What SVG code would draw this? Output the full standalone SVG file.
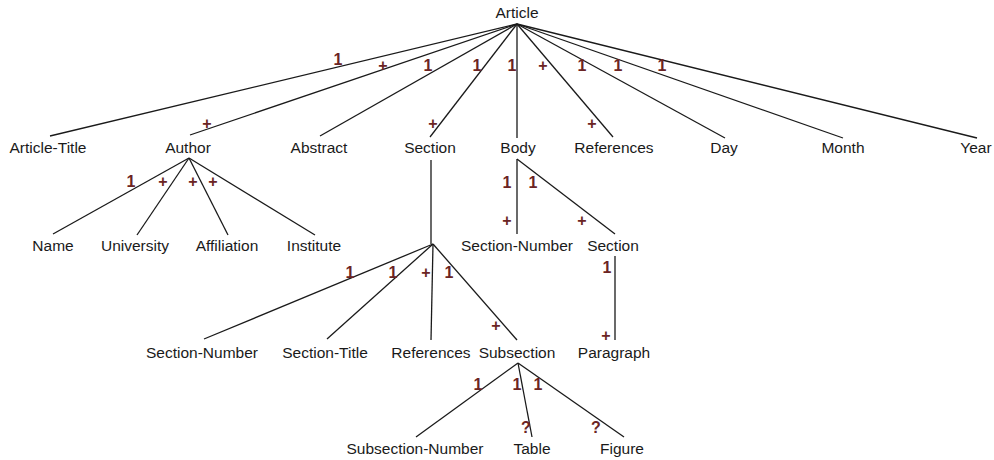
<svg xmlns="http://www.w3.org/2000/svg" width="994" height="460" viewBox="0 0 994 460">
<style>
.n{font-family:"Liberation Sans",Arial,sans-serif;font-size:15.5px;fill:#1a1a1a;text-anchor:middle}
.m{font-family:"Liberation Sans",Arial,sans-serif;font-size:16px;font-weight:bold;fill:#6b2424;text-anchor:middle}
#edges line{stroke:#1a1a1a;stroke-width:1.3}
</style>
<rect width="994" height="460" fill="#fff"/>
<g id="edges">
<line x1="517" y1="24" x2="50" y2="136"/>
<line x1="517" y1="24" x2="190" y2="135"/>
<line x1="517" y1="24" x2="320" y2="136"/>
<line x1="517" y1="24" x2="430" y2="137"/>
<line x1="517" y1="24" x2="517" y2="138"/>
<line x1="517" y1="24" x2="613" y2="137"/>
<line x1="517" y1="24" x2="725" y2="138"/>
<line x1="517" y1="24" x2="843" y2="138"/>
<line x1="517" y1="24" x2="977" y2="138"/>
<line x1="189" y1="158" x2="53" y2="234"/>
<line x1="189" y1="158" x2="137" y2="235"/>
<line x1="189" y1="158" x2="228" y2="235"/>
<line x1="189" y1="158" x2="315" y2="235"/>
<line x1="431" y1="160" x2="431" y2="244"/>
<line x1="433" y1="244" x2="204" y2="339"/>
<line x1="433" y1="244" x2="327" y2="339"/>
<line x1="433" y1="244" x2="431" y2="340"/>
<line x1="433" y1="244" x2="517" y2="340"/>
<line x1="517" y1="159" x2="517" y2="234"/>
<line x1="517" y1="159" x2="615" y2="234"/>
<line x1="615" y1="256" x2="615" y2="340"/>
<line x1="518" y1="363" x2="416" y2="437"/>
<line x1="518" y1="363" x2="532" y2="437"/>
<line x1="518" y1="363" x2="624" y2="437"/>
</g>
<g id="labels">
<text class="m" x="338" y="65">1</text>
<text class="m" x="383" y="71">+</text>
<text class="m" x="428" y="71">1</text>
<text class="m" x="477" y="71">1</text>
<text class="m" x="512" y="71">1</text>
<text class="m" x="543" y="71">+</text>
<text class="m" x="582" y="71">1</text>
<text class="m" x="618" y="71">1</text>
<text class="m" x="662" y="71">1</text>
<text class="m" x="207" y="129">+</text>
<text class="m" x="433" y="129">+</text>
<text class="m" x="592" y="129">+</text>
<text class="m" x="131" y="187">1</text>
<text class="m" x="163" y="187">+</text>
<text class="m" x="193" y="187">+</text>
<text class="m" x="213" y="187">+</text>
<text class="m" x="507" y="188">1</text>
<text class="m" x="533" y="188">1</text>
<text class="m" x="507" y="226">+</text>
<text class="m" x="582" y="226">+</text>
<text class="m" x="350" y="278">1</text>
<text class="m" x="393" y="278">1</text>
<text class="m" x="426" y="278">+</text>
<text class="m" x="449" y="278">1</text>
<text class="m" x="607" y="273">1</text>
<text class="m" x="496" y="331">+</text>
<text class="m" x="606" y="341">+</text>
<text class="m" x="478" y="390">1</text>
<text class="m" x="517" y="390">1</text>
<text class="m" x="538" y="390">1</text>
<text class="m" x="526" y="433">?</text>
<text class="m" x="596" y="433">?</text>
</g>
<g id="article"><text class="n" x="517" y="18">Article</text></g>
<g id="article-title"><text class="n" x="48" y="153">Article-Title</text></g>
<g id="author"><text class="n" x="188" y="153">Author</text></g>
<g id="abstract"><text class="n" x="319" y="153">Abstract</text></g>
<g id="section"><text class="n" x="430" y="153">Section</text></g>
<g id="body"><text class="n" x="518" y="153">Body</text></g>
<g id="references"><text class="n" x="614" y="153">References</text></g>
<g id="day"><text class="n" x="724" y="153">Day</text></g>
<g id="month"><text class="n" x="843" y="153">Month</text></g>
<g id="year"><text class="n" x="976" y="153">Year</text></g>
<g id="name"><text class="n" x="53" y="251">Name</text></g>
<g id="university"><text class="n" x="135" y="251">University</text></g>
<g id="affiliation"><text class="n" x="227" y="251">Affiliation</text></g>
<g id="institute"><text class="n" x="314" y="251">Institute</text></g>
<g id="body-section-number"><text class="n" x="517" y="251">Section-Number</text></g>
<g id="body-section"><text class="n" x="613" y="251">Section</text></g>
<g id="section-number"><text class="n" x="202" y="358">Section-Number</text></g>
<g id="section-title"><text class="n" x="325" y="358">Section-Title</text></g>
<g id="section-references"><text class="n" x="431" y="358">References</text></g>
<g id="subsection"><text class="n" x="517" y="358">Subsection</text></g>
<g id="paragraph"><text class="n" x="614" y="358">Paragraph</text></g>
<g id="subsection-number"><text class="n" x="415" y="454">Subsection-Number</text></g>
<g id="table"><text class="n" x="532" y="454">Table</text></g>
<g id="figure"><text class="n" x="622" y="454">Figure</text></g>
</svg>
